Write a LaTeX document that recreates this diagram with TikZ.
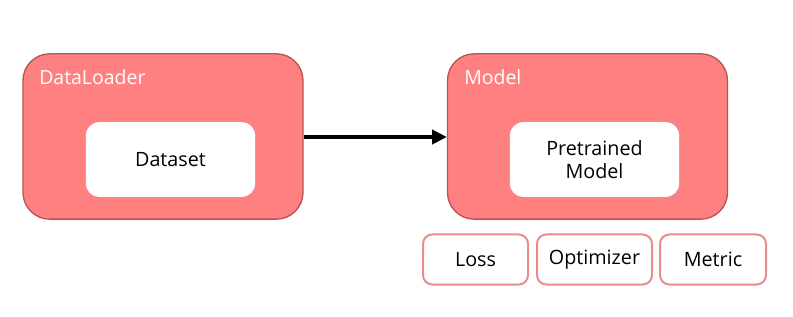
\documentclass[tikz,border=0pt]{standalone}
\usepackage{fontspec}
\setmainfont{Open Sans}
\usetikzlibrary{arrows.meta}
\definecolor{boxfill}{HTML}{FF8080}
\definecolor{boxline}{HTML}{B85450}
\definecolor{smallline}{HTML}{EA8A8A}
\begin{document}
\begin{tikzpicture}[x=0.75pt,y=-0.75pt,
  outer/.style={draw=boxline,fill=boxfill,line width=1pt,rounded corners=20pt,minimum width=210pt,minimum height=124pt,inner sep=0pt},
  inner/.style={fill=white,rounded corners=10pt,minimum width=127pt,minimum height=56pt,align=center,font=\fontsize{14.8}{17.5}\selectfont,inner sep=0pt},
  small/.style={draw=smallline,fill=white,line width=1.5pt,rounded corners=7pt,minimum height=37.5pt,font=\fontsize{14.8}{17.5}\selectfont,inner sep=0pt},
  title/.style={text=white,font=\fontsize{14.6}{17}\selectfont,anchor=base west,inner sep=0pt}]
\useasboundingbox (0,0) rectangle (793,317);
\node[outer] (dl) at (163,136.5) {};
\node[outer] (md) at (587.5,136.5) {};
\node[title] (dlt) at (39,85) {DataLoader};
\node[title] (mdt) at (464,85) {Model};
\node[inner] (ds) at (170.5,159.5) {Dataset};
\node[inner] (pm) at (594.5,159.5) {Pretrained\\Model};
\node[small,minimum width=78.75pt] (loss) at (475.5,259.5) {Loss};
\node[small,minimum width=86.25pt] (opt) at (594.5,259.5) {Optimizer};
\node[small,minimum width=79.5pt] (met) at (713,259.5) {Metric};
\draw[line width=3pt,-{Triangle[length=11pt,width=10.5pt]}] (dl.east |- 0,137) -- (md.west |- 0,137);
\end{tikzpicture}
\end{document}
